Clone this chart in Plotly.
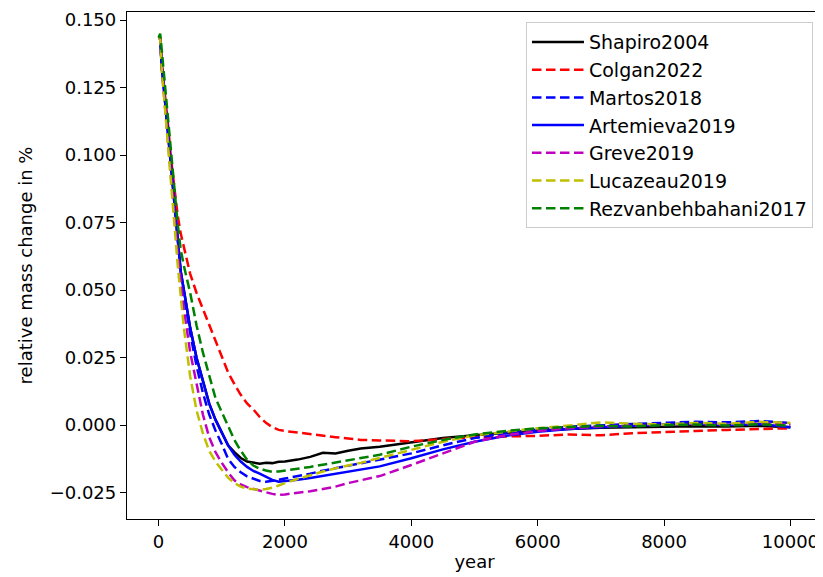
import plotly.graph_objects as go

years = [0, 25, 50, 100, 150, 200, 250, 300, 350, 400, 500, 600, 700, 800, 900,
         1000, 1100, 1200, 1300, 1400, 1500, 1600, 1700, 1800, 1900, 2000, 2200,
         2400, 2600, 2800, 3000, 3200, 3500, 4000, 4500, 5000, 5500, 6000, 6500,
         7000, 7500, 8000, 8500, 9000, 9500, 10000]

shapiro2004 = [0.143, 0.1435, 0.133, 0.120, 0.107, 0.094, 0.080, 0.067, 0.057, 0.050,
               0.036, 0.025, 0.016, 0.008, 0.002, -0.003, -0.0075, -0.010, -0.0122,
               -0.0135, -0.014, -0.0143, -0.0140, -0.0141, -0.0136, -0.0135, -0.0128,
               -0.0118, -0.0103, -0.0105, -0.0095, -0.0087, -0.0080, -0.0063, -0.0048,
               -0.0038, -0.0028, -0.0020, -0.0015, -0.0010, -0.0008, -0.0006, -0.0004,
               -0.0005, -0.0003, -0.0008]

colgan2022 = [0.143, 0.1435, 0.134, 0.123, 0.111, 0.098, 0.087, 0.078, 0.071, 0.066,
              0.056, 0.049, 0.043, 0.037, 0.031, 0.025, 0.0195, 0.0152, 0.0112, 0.008,
              0.0058, 0.003, 0.0008, -0.0008, -0.0018, -0.0022, -0.0028, -0.0035,
              -0.0040, -0.0045, -0.0050, -0.0055, -0.0057, -0.0060, -0.0052, -0.0045,
              -0.0042, -0.0040, -0.0035, -0.0038, -0.0030, -0.0025, -0.0022, -0.0018,
              -0.0015, -0.0012]

martos2018 = [0.143, 0.1435, 0.133, 0.120, 0.106, 0.093, 0.079, 0.066, 0.056, 0.048,
              0.034, 0.022, 0.012, 0.004, -0.002, -0.007, -0.0125, -0.0155, -0.0175,
              -0.019, -0.020, -0.0207, -0.021, -0.0207, -0.0203, -0.0198, -0.019,
              -0.018, -0.0169, -0.0160, -0.0150, -0.0140, -0.0128, -0.0105, -0.0075,
              -0.0048, -0.003, -0.0016, -0.0006, 0.0, 0.0004, 0.0008, 0.0012, 0.0010,
              0.0015, 0.0008]

artemieva2019 = [0.143, 0.1435, 0.133, 0.120, 0.107, 0.094, 0.080, 0.067, 0.057, 0.050,
                 0.036, 0.025, 0.016, 0.008, 0.002, -0.0025, -0.0075, -0.011, -0.0135,
                 -0.0155, -0.017, -0.018, -0.0193, -0.0203, -0.021, -0.0208, -0.0203,
                 -0.0196, -0.0188, -0.0180, -0.0172, -0.0165, -0.0153, -0.0123, -0.0090,
                 -0.0062, -0.0040, -0.0025, -0.0015, -0.0008, -0.0002, 0.0003, 0.0006,
                 0.0, 0.0004, -0.0008]

greve2019 = [0.143, 0.1435, 0.132, 0.118, 0.104, 0.090, 0.077, 0.064, 0.053, 0.043,
             0.027, 0.0152, 0.004, -0.0045, -0.010, -0.014, -0.0175, -0.0205, -0.022,
             -0.023, -0.0237, -0.0243, -0.0249, -0.0255, -0.0259, -0.0257, -0.0252,
             -0.0245, -0.0237, -0.0228, -0.0215, -0.0205, -0.0189, -0.0148, -0.0105,
             -0.0062, -0.0038, -0.0022, -0.0012, -0.0005, -0.0002, 0.0, 0.0003, 0.0001,
             0.0006, 0.0002]

lucazeau2019 = [0.143, 0.1435, 0.132, 0.117, 0.102, 0.088, 0.075, 0.060, 0.048, 0.036,
                0.018, 0.0055, -0.003, -0.0095, -0.0135, -0.0165, -0.0195, -0.0215,
                -0.0228, -0.0235, -0.0238, -0.024, -0.0237, -0.0232, -0.0224, -0.0215,
                -0.0200, -0.0185, -0.0172, -0.0160, -0.0150, -0.0140, -0.0122, -0.0092,
                -0.0062, -0.0038, -0.0025, -0.0012, -0.0002, 0.001, 0.0005, 0.0002,
                0.0008, 0.0005, 0.0012, 0.0008]

rezvanbehbahani2017 = [0.1435, 0.145, 0.139, 0.126, 0.113, 0.100, 0.088, 0.075, 0.065,
                       0.059, 0.049, 0.037, 0.027, 0.018, 0.010, 0.0048, -0.0005,
                       -0.0055, -0.0095, -0.0128, -0.0150, -0.0162, -0.0168, -0.0173,
                       -0.0172, -0.0168, -0.0162, -0.0155, -0.0147, -0.0139, -0.0131,
                       -0.0123, -0.0110, -0.0080, -0.0055, -0.0035, -0.0022, -0.0012,
                       -0.0008, -0.0003, -0.0005, 0.0, 0.0002, -0.0002, 0.0003, -0.0002]

series = [
    ("Shapiro2004", shapiro2004, "#000000", "solid"),
    ("Colgan2022", colgan2022, "#ff0000", "dashed"),
    ("Martos2018", martos2018, "#0000ff", "dashed"),
    ("Artemieva2019", artemieva2019, "#0000ff", "solid"),
    ("Greve2019", greve2019, "#bf00bf", "dashed"),
    ("Lucazeau2019", lucazeau2019, "#bfbf00", "dashed"),
    ("Rezvanbehbahani2017", rezvanbehbahani2017, "#008000", "dashed"),
]

y_ticks = [-0.025, 0.0, 0.025, 0.05, 0.075, 0.1, 0.125, 0.15]
x_ticks = [0, 2000, 4000, 6000, 8000, 10000]

fig = go.Figure()
for name, vals, color, style in series:
    fig.add_trace(go.Scatter(
        x=years, y=vals, mode="lines", name=name,
        line=dict(color=color, width=2.5,
                  dash="solid" if style == "solid" else "9.5px,4.5px"),
    ))

font_family = "DejaVu Sans, sans-serif"
fig.update_layout(
    width=815, height=569,
    margin=dict(l=119, r=1, t=4, b=58),
    paper_bgcolor="white", plot_bgcolor="white",
    font=dict(family=font_family, size=18, color="black"),
    showlegend=True,
    legend=dict(x=0.987, y=0.98, xanchor="right", yanchor="top",
                bordercolor="#cccccc", borderwidth=1, bgcolor="white",
                font=dict(size=19), tracegroupgap=0, itemwidth=52),
    xaxis=dict(range=[-500, 10500], tickvals=x_ticks, tickformat="d",
               showgrid=False, zeroline=False, showline=True, mirror=True,
               linecolor="black", linewidth=1.3, ticks="outside", ticklen=6,
               tickcolor="black", tickwidth=1.3,
               title=dict(text="year", font=dict(size=18), standoff=4)),
    yaxis=dict(range=[-0.0348, 0.153], tickvals=y_ticks, tickformat=".3f",
               showgrid=False, zeroline=False, showline=True, mirror=True,
               linecolor="black", linewidth=1.3, ticks="outside", ticklen=6,
               tickcolor="black", tickwidth=1.3,
               title=dict(text="relative mass change in %", font=dict(size=18),
                          standoff=12)),
)

fig.write_html("out.html")
